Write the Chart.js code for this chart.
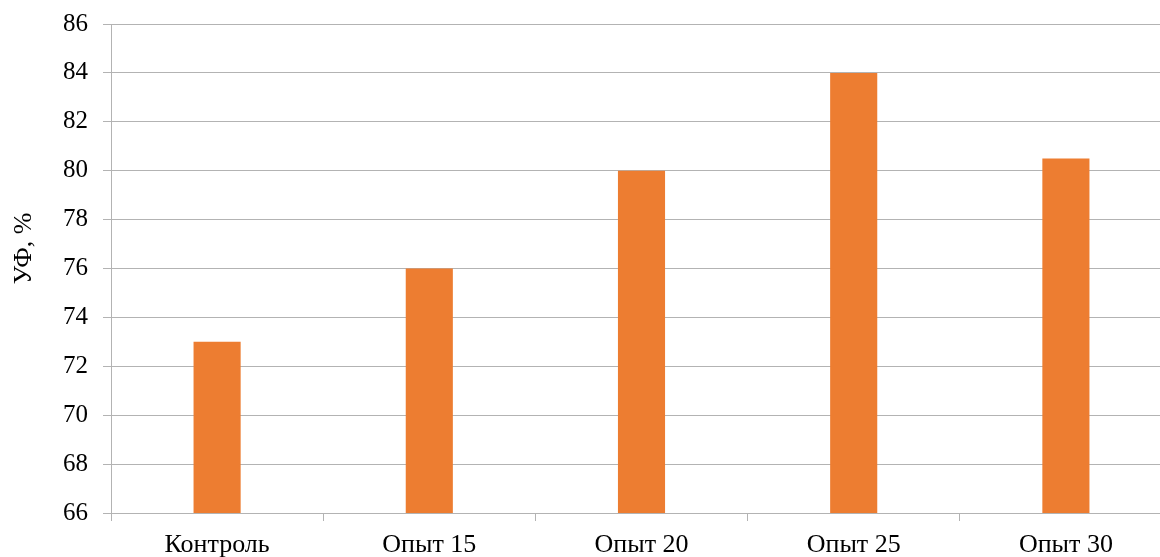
<!DOCTYPE html>
<html>
<head>
<meta charset="utf-8">
<script src="https://cdn.jsdelivr.net/npm/chart.js@4"></script>
<style>
  html, body { margin: 0; padding: 0; background: #fff; overflow: hidden; }
  #wrap { width: 1172px; height: 557px; position: relative; }
</style>
</head>
<body>
<div id="wrap"><canvas id="c"></canvas></div>
<script>
const categories = ['Контроль', 'Опыт 15', 'Опыт 20', 'Опыт 25', 'Опыт 30'];
const ufValues = [73, 76, 80, 84, 80.5];
const yTitle = 'УФ, %';
const yMin = 66, yMax = 86, yStep = 2;

const serif = "'Liberation Serif', 'Times New Roman', serif";
const gridGrey = '#b3b3b3';

// Vertical axis caption, sitting a little above the middle of the value axis
const axisCaption = {
  id: 'axisCaption',
  afterDraw(chart) {
    const { ctx, chartArea } = chart;
    ctx.save();
    ctx.font = `26px ${serif}`;
    ctx.fillStyle = '#000';
    ctx.textAlign = 'center';
    ctx.textBaseline = 'middle';
    ctx.translate(24, (chartArea.top + chartArea.bottom) / 2 - 20);
    ctx.rotate(-Math.PI / 2);
    ctx.fillText(yTitle, 0, 0);
    ctx.restore();
  }
};

new Chart(document.getElementById('c'), {
  type: 'bar',
  data: {
    labels: categories,
    datasets: [{
      data: ufValues,
      backgroundColor: '#ed7d31',
      borderWidth: 0,
      categoryPercentage: 1,
      barPercentage: 0.222
    }]
  },
  plugins: [axisCaption],
  options: {
    responsive: true,
    maintainAspectRatio: false,
    animation: false,
    layout: { padding: { top: 24, right: 0, bottom: 0, left: 0 } },
    plugins: { legend: { display: false }, tooltip: { enabled: false } },
    scales: {
      x: {
        grid: { drawOnChartArea: false, offset: true, tickLength: 8, color: gridGrey, lineWidth: 1 },
        border: { display: true, color: gridGrey, width: 1 },
        ticks: { color: '#000', font: { family: serif, size: 26 }, padding: 9, maxRotation: 0 },
        afterFit(scale) { scale.height = 44; }
      },
      y: {
        min: yMin,
        max: yMax,
        grid: { color: gridGrey, lineWidth: 1, tickLength: 8 },
        border: { display: true, color: gridGrey, width: 1 },
        ticks: { stepSize: yStep, color: '#000', font: { family: serif, size: 25 }, padding: 15 },
        afterFit(scale) {
          scale.width = 111;
          scale.paddingTop = 0;
          scale.paddingBottom = 0;
        }
      }
    }
  }
});
</script>
</body>
</html>
